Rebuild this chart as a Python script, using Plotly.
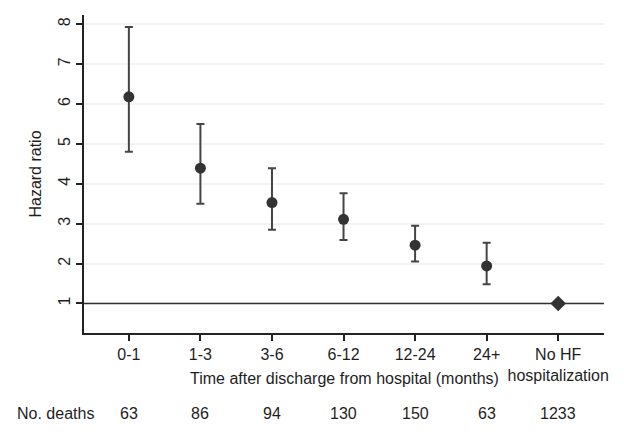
import plotly.graph_objects as go

categories = ["0-1", "1-3", "3-6", "6-12", "12-24", "24+", "No HF<br>hospitalization"]
hazard_ratio = [6.18, 4.39, 3.53, 3.11, 2.46, 1.94, 1.0]
ci_upper = [7.93, 5.50, 4.39, 3.76, 2.95, 2.52, 1.0]
ci_lower = [4.80, 3.50, 2.85, 2.59, 2.05, 1.48, 1.0]
deaths = [63, 86, 94, 130, 150, 63, 1233]
y_ticks = [1, 2, 3, 4, 5, 6, 7, 8]

font_family = "Liberation Sans, Arial, sans-serif"
text_color = "#1e1e1e"
fs = 16

hf_cats = categories[:-1]
err_plus = [u - h for u, h in zip(ci_upper[:-1], hazard_ratio[:-1])]
err_minus = [h - l for h, l in zip(hazard_ratio[:-1], ci_lower[:-1])]

fig = go.Figure()
fig.add_trace(go.Scatter(
    x=hf_cats, y=hazard_ratio[:-1], mode="markers",
    marker=dict(symbol="circle", size=11, color="#333333"),
    error_y=dict(type="data", symmetric=False, array=err_plus, arrayminus=err_minus,
                 color="#444444", thickness=2, width=4),
    showlegend=False,
))
fig.add_trace(go.Scatter(
    x=[categories[-1]], y=[hazard_ratio[-1]], mode="markers",
    marker=dict(symbol="diamond", size=12, color="#333333"),
    showlegend=False,
))

fig.add_shape(type="line", xref="paper", yref="y", x0=0, x1=1, y0=1, y1=1,
              line=dict(color="#333333", width=1.5))

# plot area: 524 x 318 px
fig.add_annotation(text="Time after discharge from hospital (months)", xref="paper", yref="paper",
                   x=0.5, y=-45 / 318, xanchor="center", yanchor="middle", showarrow=False,
                   font=dict(size=fs, color=text_color, family=font_family))
fig.add_annotation(text="No. deaths", xref="paper", yref="paper", x=-70 / 524, y=-80 / 318,
                   xanchor="left", yanchor="middle", showarrow=False,
                   font=dict(size=fs, color=text_color, family=font_family))
for c, d in zip(categories, deaths):
    fig.add_annotation(text=str(d), xref="x", yref="paper", x=c, y=-80 / 318,
                       xanchor="center", yanchor="middle", showarrow=False,
                       font=dict(size=fs, color=text_color, family=font_family))

fig.update_layout(
    width=608, height=425,
    margin=dict(l=76, r=8, t=7, b=100),
    paper_bgcolor="white", plot_bgcolor="white",
    font=dict(family=font_family, size=fs, color=text_color),
)
fig.update_xaxes(
    type="category", categoryorder="array", categoryarray=categories,
    range=[-0.627, 6.64],
    showline=True, linecolor="#222222", linewidth=2,
    ticks="outside", ticklen=6, tickwidth=2, tickcolor="#222222",
    showgrid=False, zeroline=False,
    tickfont=dict(size=fs, color=text_color),
)
fig.update_yaxes(
    range=[0.26, 8.23],
    tickvals=y_ticks, tickangle=-90,
    showline=True, linecolor="#222222", linewidth=2,
    ticks="outside", ticklen=6, tickwidth=2, tickcolor="#222222",
    showgrid=True, gridcolor="#f3f3f3", gridwidth=1.5, zeroline=False,
    tickfont=dict(size=fs, color=text_color),
    title=dict(text="Hazard ratio", font=dict(size=fs, color=text_color), standoff=10),
)

fig.write_html("out.html")
